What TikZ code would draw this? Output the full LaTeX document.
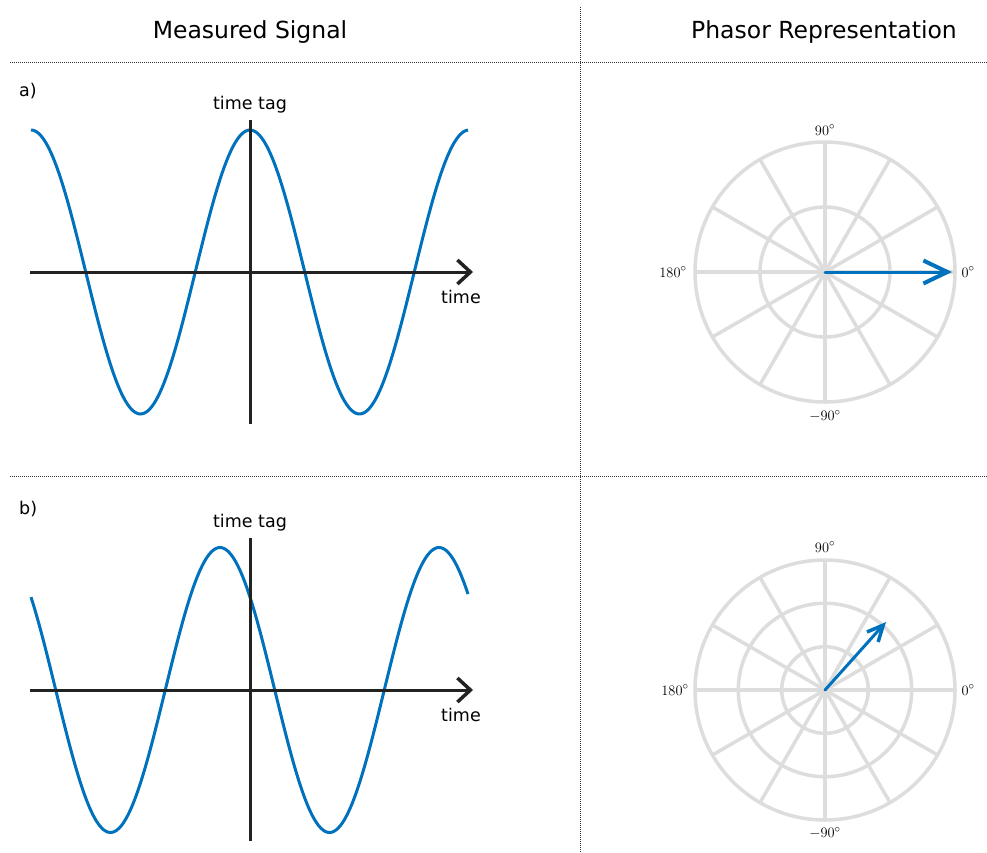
\documentclass[tikz,border=0pt]{standalone}
\usepackage{fontspec}
\setmainfont{DejaVu Sans}
\usetikzlibrary{arrows.meta}
\definecolor{sigblue}{RGB}{0,114,189}
\definecolor{gridgray}{RGB}{221,221,221}
\definecolor{axisblack}{RGB}{34,34,34}
\tikzset{
  sep/.style={line width=0.8pt, black!80, dash pattern=on 1pt off 1pt},
  title/.style={font=\fontsize{23.5}{28}\selectfont, inner sep=0pt},
  lbl/.style={font=\fontsize{17.5}{21}\selectfont, inner sep=0pt},
  deg/.style={font=\fontsize{15.5}{18}\selectfont, inner sep=0pt},
  axisline/.style={line width=3pt, axisblack},
  timeaxis/.style={line width=3pt, axisblack, -{Straight Barb[length=13pt,width=24pt,line width=3.5pt]}},
  signal/.style={line width=3pt, sigblue},
  gridline/.style={line width=3.5pt, gridgray},
  phasor/.style={line width=3pt, sigblue, line cap=round},
}
\newcommand{\polargrid}[3]{% center x, center y, list of radii
  \foreach \r in {#3}{\draw[gridline] (#1,#2) circle[radius=\r];}
  \foreach \a in {0,30,...,330}{\draw[gridline] (#1,#2) -- ++({130*cos(\a)},{130*sin(\a)});}
}
\begin{document}
\begin{tikzpicture}[x=1pt,y=-1pt]
\useasboundingbox[fill=white] (0,0) rectangle (987,852);
% separators
\coordinate (hl1) at (10,62); \coordinate (hr1) at (987,62);
\coordinate (hl2) at (10,476); \coordinate (hr2) at (987,476);
\coordinate (vt) at (580,7); \coordinate (vb) at (580,852);
\draw[sep] (hl1) -- (hr1);
\draw[sep] (hl2) -- (hr2);
\draw[sep] (vt) -- (vb);
% titles
\node[title] (t1) at (250,32) {Measured Signal};
\node[title] (t2) at (824,32) {Phasor Representation};
% panel labels
\node[lbl, anchor=west] (pa) at (19,91) {a)};
\node[lbl, anchor=west] (pb) at (19,509) {b)};

% ===== panel a signal =====
\coordinate (a0) at (30,272); \coordinate (a1) at (473,272);
\coordinate (av0) at (250,120); \coordinate (av1) at (250,424);
\draw[signal, domain=31:468, samples=200, smooth] plot (\x, {272 - 142*cos(1.6438*(\x-250))});
\draw[axisline] (av0) -- (av1);
\draw[timeaxis] (a0) -- (a1);
\node[lbl] (tta) at (250,105) {time tag};
\node[lbl] (tma) at (461,297) {time};

% ===== panel b signal =====
\coordinate (b0) at (30,690); \coordinate (b1) at (473,690);
\coordinate (bv0) at (250,538); \coordinate (bv1) at (250,841);
\draw[signal, domain=31:468, samples=200, smooth] plot (\x, {690 - 142.5*cos(1.6438*(\x-220))});
\draw[axisline] (bv0) -- (bv1);
\draw[timeaxis] (b0) -- (b1);
\node[lbl] (ttb) at (250,523) {time tag};
\node[lbl] (tmb) at (461,715) {time};

% ===== phasor a =====
\polargrid{825}{272}{65,130}
\coordinate (pca) at (825,272); \coordinate (pea) at (952,272);
\draw[phasor, -{Straight Barb[length=24pt,width=23pt,line width=4pt]}] (pca) -- (pea);
\node[deg] (a90) at (825,130) {$90^\circ$};
\node[deg] (a180) at (673,272) {$180^\circ$};
\node[deg] (a0d) at (968,272) {$0^\circ$};
\node[deg] (am90) at (825,416) {$-90^\circ$};

% ===== phasor b =====
\polargrid{825}{690}{43.3,86.7,130}
\coordinate (pcb) at (825,690); \coordinate (peb) at (886,622);
\draw[phasor, -{Straight Barb[length=16pt,width=15pt,line width=3.5pt]}] (pcb) -- (peb);
\node[deg] (b90) at (825,547) {$90^\circ$};
\node[deg] (b180) at (675,690) {$180^\circ$};
\node[deg] (b0d) at (968,690) {$0^\circ$};
\node[deg] (bm90) at (825,833) {$-90^\circ$};
\end{tikzpicture}
\end{document}
